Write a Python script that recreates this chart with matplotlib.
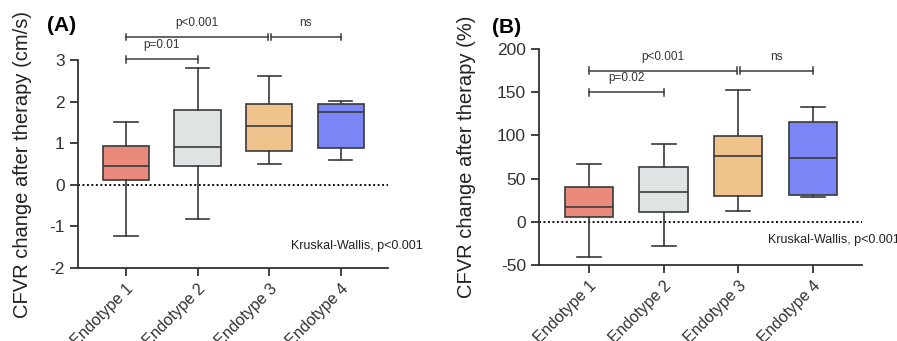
import numpy as np
import matplotlib
matplotlib.use("Agg")
import matplotlib.pyplot as plt

plt.rcParams['font.family'] = ['Liberation Sans', 'DejaVu Sans']
plt.rcParams['axes.unicode_minus'] = False

# data
groups = ["Endotype 1", "Endotype 2", "Endotype 3", "Endotype 4"]
colors = ["#E98A7D", "#E0E3E3", "#F0C28C", "#7A86F5"]

# panel A: CFVR change (cm/s)  -> low whisker, Q1, median, Q3, high whisker
a_low = [-1.22, -0.81, 0.50, 0.60]
a_q1 = [0.11, 0.46, 0.81, 0.89]
a_med = [0.45, 0.91, 1.41, 1.76]
a_q3 = [0.94, 1.80, 1.94, 1.95]
a_high = [1.51, 2.82, 2.61, 2.01]

# panel B: CFVR change (%)
b_low = [-41, -28, 13, 29]
b_q1 = [5, 11, 30, 31]
b_med = [17, 34, 76, 74]
b_q3 = [40, 64, 99, 116]
b_high = [67, 90, 153, 133]

edge = "#3a3a3a"


def make_stats(low, q1, med, q3, high):
    return [dict(whislo=l, q1=a, med=m, q3=b, whishi=h, fliers=[])
            for l, a, m, b, h in zip(low, q1, med, q3, high)]


def bracket(ax, x1, x2, y, h, text=None, ty=None):
    ax.plot([x1, x2], [y, y], color=edge, lw=1.1, clip_on=False)
    ax.plot([x1, x1], [y - h, y + h], color=edge, lw=1.1, clip_on=False)
    ax.plot([x2, x2], [y - h, y + h], color=edge, lw=1.1, clip_on=False)
    if text:
        ax.text((x1 + x2) / 2, ty, text, ha="center", va="center",
                fontsize=8.5, color="#333333", clip_on=False)


def panel(ax, stats, ylim, yticks, ylabel):
    pos = np.arange(1, 5)
    bp = ax.bxp(stats, positions=pos, widths=0.65, patch_artist=True,
                showfliers=False,
                boxprops=dict(edgecolor=edge, linewidth=1.2),
                medianprops=dict(color=edge, linewidth=1.2),
                whiskerprops=dict(color=edge, linewidth=1.2),
                capprops=dict(color=edge, linewidth=1.2))
    for patch, c in zip(bp["boxes"], colors):
        patch.set_facecolor(c)
    ax.axhline(0, color="#111111", lw=1.4, ls=(0, (1, 1.3)), zorder=0.5)
    ax.set_xlim(0.33, 4.66)
    ax.set_ylim(*ylim)
    ax.set_yticks(yticks)
    ax.set_xticks(pos)
    ax.set_xticklabels(groups, rotation=45, ha="right", rotation_mode="anchor",
                       fontsize=11.5, color="#333333")
    ax.tick_params(axis="y", labelsize=12.5, colors="#333333", length=6, width=1.3)
    ax.tick_params(axis="x", length=6, width=1.3, colors="#333333")
    for s in ["top", "right"]:
        ax.spines[s].set_visible(False)
    for s in ["left", "bottom"]:
        ax.spines[s].set_color("#333333")
        ax.spines[s].set_linewidth(1.3)
    ax.set_ylabel(ylabel, fontsize=14.5, color="#222222")
    return ax


fig = plt.figure(figsize=(8.97, 3.41), dpi=100)

axA = fig.add_axes([0.087, 0.214, 0.3456, 0.61])
panel(axA, make_stats(a_low, a_q1, a_med, a_q3, a_high), (-2, 3),
      [-2, -1, 0, 1, 2, 3], "CFVR change after therapy (cm/s)")
axA.yaxis.set_label_coords(-0.15, 0.5)
bracket(axA, 1, 2.98, 3.55, 0.08, "p<0.001", 3.88)
bracket(axA, 3.02, 4, 3.55, 0.08, "ns", 3.88)
bracket(axA, 1, 2, 3.02, 0.08, "p=0.01", 3.37)
axA.text(5.15, -1.47, "Kruskal-Wallis, p<0.001", ha="right", va="center",
         fontsize=9, color="#222222", clip_on=False)
fig.text(0.052, 0.925, "(A)", fontsize=15, fontweight="bold", va="center")

axB = fig.add_axes([0.601, 0.223, 0.36, 0.633])
panel(axB, make_stats(b_low, b_q1, b_med, b_q3, b_high), (-50, 200),
      [-50, 0, 50, 100, 150, 200], "CFVR change after therapy (%)")
axB.yaxis.set_label_coords(-0.195, 0.5)
bracket(axB, 1, 2.98, 175, 4, "p<0.001", 191)
bracket(axB, 3.02, 4, 175, 4, "ns", 191)
bracket(axB, 1, 2, 150, 4, "p=0.02", 167)
axB.text(5.16, -21, "Kruskal-Wallis, p<0.001", ha="right", va="center",
         fontsize=9, color="#222222", clip_on=False)
fig.text(0.548, 0.92, "(B)", fontsize=15, fontweight="bold", va="center")

fig.savefig("out.png", dpi=100)
